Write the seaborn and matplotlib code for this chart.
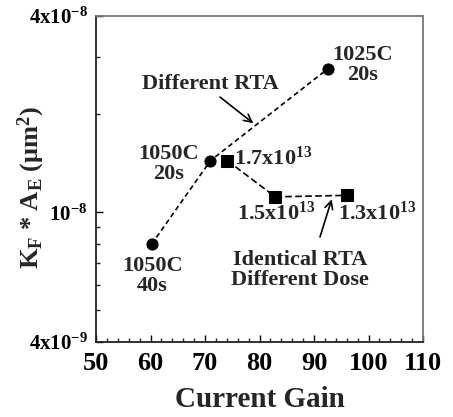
import matplotlib
matplotlib.use("Agg")
import matplotlib.pyplot as plt
import matplotlib.ticker as mticker
import seaborn as sns
import pandas as pd
import numpy as np

# ---- data ----
rta_gain = [60.2, 71.0, 92.6]
rta_kfae = [7.98e-9, 1.44e-8, 2.76e-8]
rta_labels = ["1050C\n40s", "1050C\n20s", "1025C\n20s"]

dose_gain = [74.1, 82.9, 96.1]
dose_kfae = [1.44e-8, 1.115e-8, 1.127e-8]
dose_labels = [r"1.7x10$^{\mathbf{13}}$", r"1.5x10$^{\mathbf{13}}$", r"1.3x10$^{\mathbf{13}}$"]

x_ticks = [50, 60, 70, 80, 90, 100, 110]
y_ticks = [4e-9, 1e-8, 4e-8]
y_ticklabels = [r"$\mathbf{4x10^{-9}}$", r"$\mathbf{10^{-8}}$", r"$\mathbf{4x10^{-8}}$"]

sns.set_style("ticks")
plt.rcParams['font.family'] = ['Liberation Serif', 'DejaVu Serif']
plt.rcParams['font.weight'] = 'bold'
plt.rcParams['mathtext.fontset'] = 'custom'
plt.rcParams['mathtext.rm'] = 'Liberation Serif:bold'
plt.rcParams['mathtext.bf'] = 'Liberation Serif:bold'
plt.rcParams['mathtext.it'] = 'Liberation Serif:bold'

fig = plt.figure(figsize=(4.53, 4.17), dpi=100)
ax = fig.add_axes([96/453, 1-342/417, (423-96)/453, (342-16)/417])

df_rta = pd.DataFrame({"gain": rta_gain, "kfae": rta_kfae})
df_dose = pd.DataFrame({"gain": dose_gain, "kfae": dose_kfae})

sns.lineplot(data=df_rta, x="gain", y="kfae", ax=ax, sort=False, color="black",
             lw=1.2, marker="o", markersize=8, markeredgecolor="black")
ax.lines[-1].set_dashes((3, 2))
sns.lineplot(data=df_dose, x="gain", y="kfae", ax=ax, sort=False, color="black",
             lw=1.2, marker="s", markersize=8, markeredgecolor="black")
ax.lines[-1].set_dashes((4, 2))

ax.set_yscale("log")
ax.set_xlim(50, 110)
ax.set_ylim(4e-9, 4e-8)
ax.set_xticks(x_ticks)
ax.set_xticklabels([str(t) for t in x_ticks], fontsize=19, fontweight='bold')
ax.xaxis.set_minor_locator(mticker.MultipleLocator(2))
ax.set_yticks(y_ticks)
ax.set_yticklabels(y_ticklabels, fontsize=15)
ax.yaxis.set_minor_locator(mticker.LogLocator(base=10, subs=np.arange(2, 10)))
ax.yaxis.set_minor_formatter(mticker.NullFormatter())

ax.tick_params(axis='both', which='major', direction='in', length=5, width=1, pad=7, colors='black')
ax.tick_params(axis='both', which='minor', direction='in', length=3, width=1)
ax.tick_params(axis='y', which='major', pad=6)
for s in ['top', 'right']:
    ax.spines[s].set_color('#777777')
for s in ['left', 'bottom']:
    ax.spines[s].set_color('#222222')
for s in ax.spines.values():
    s.set_linewidth(1.3)

ax.set_xlabel("Current Gain", fontsize=21, fontweight='bold', labelpad=8)
ax.set_ylabel(r"K$_\mathbf{F}$ * A$_\mathbf{E}$ ($\mu$m$^\mathbf{2}$)", fontsize=19,
              fontweight='bold')
ax.yaxis.label.set_va('center')
ax.yaxis.set_label_coords((31 - 96) / 327, (342 - 187) / 326)

fs = 16
tkw = dict(fontsize=fs, fontweight='bold', ha='center', va='center', linespacing=0.95)
ax.text(60.37, 6.37e-9, rta_labels[0], **tkw)
ax.text(63.4, 1.406e-8, rta_labels[1], **tkw)
ax.text(98.9, 2.83e-8, rta_labels[2], **tkw)
ax.text(75.3, 1.46e-8, dose_labels[0], fontsize=fs, fontweight='bold', ha='left', va='center')
ax.text(83.0, 9.95e-9, dose_labels[1], fontsize=fs, fontweight='bold', ha='center', va='center')
ax.text(101.65, 9.95e-9, dose_labels[2], fontsize=fs, fontweight='bold', ha='center', va='center')
ax.text(70.9, 2.47e-8, "Different RTA", **tkw)
ax.text(87.4, 6.65e-9, "Identical RTA\nDifferent Dose", **tkw)

akw = dict(arrowstyle="->", color="black", lw=1.2, mutation_scale=14, shrinkA=0, shrinkB=0)
ax.annotate("", xy=(78.86, 1.875e-8), xytext=(72.75, 2.257e-8), arrowprops=akw)
ax.annotate("", xy=(93.25, 1.096e-8), xytext=(91.1, 8.4e-9), arrowprops=akw)

fig.savefig("out.png", dpi=100)
